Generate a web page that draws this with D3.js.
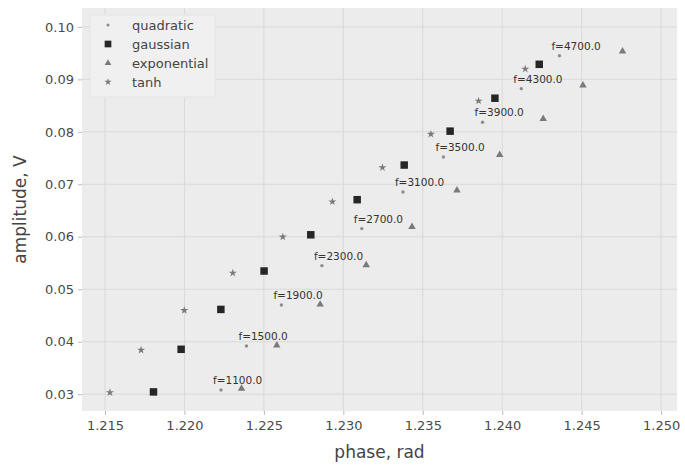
<!DOCTYPE html>
<html>
<head>
<meta charset="utf-8">
<script src="https://cdn.jsdelivr.net/npm/d3@7"></script>
<style>
  body { margin: 0; background: #fff; }
  text { font-family: "DejaVu Sans", sans-serif; }
</style>
</head>
<body>
<div id="chart"></div>
<script>
let width = 685,
    height = 465;

// frequency labels for the quadratic points
let freqs = [1100, 1500, 1900, 2300, 2700, 3100, 3500, 3900, 4300, 4700];

let quadPhase = [1.2223, 1.2239, 1.2261, 1.22865, 1.23116, 1.23375, 1.2363, 1.23876, 1.2412, 1.2436];
let quadAmp = [0.0308, 0.0392, 0.0470, 0.0545, 0.06156, 0.06853, 0.0752, 0.08184, 0.08823, 0.0945];

let gaussPhase = [1.21805, 1.21979, 1.22229, 1.22501, 1.22795, 1.23087, 1.23383, 1.23672, 1.23954, 1.24233];
let gaussAmp = [0.03044, 0.03856, 0.04616, 0.05348, 0.06038, 0.06707, 0.07367, 0.08013, 0.08641, 0.09287];

let expPhase = [1.22359, 1.22581, 1.22854, 1.23144, 1.23432, 1.23715, 1.23984, 1.24258, 1.24508, 1.24757];
let expAmp = [0.03108, 0.03932, 0.04711, 0.05462, 0.06188, 0.06884, 0.07563, 0.08247, 0.08888, 0.09534];

let tanhPhase = [1.21531, 1.21727, 1.21999, 1.22304, 1.22619, 1.22931, 1.23246, 1.23551, 1.23851, 1.24145];
let tanhAmp = [0.03032, 0.03842, 0.04597, 0.05310, 0.05998, 0.06669, 0.07321, 0.07956, 0.08589, 0.09198];

let xTicks = [1.215, 1.220, 1.225, 1.230, 1.235, 1.240, 1.245, 1.250];
let yTicks = [0.03, 0.04, 0.05, 0.06, 0.07, 0.08, 0.09, 0.10];

let series = [
  {name: "quadratic", x: quadPhase, y: quadAmp, shape: d3.symbolCircle, size: 9, color: "#8c8c8c"},
  {name: "gaussian", x: gaussPhase, y: gaussAmp, shape: d3.symbolSquare, size: 56, color: "#262626"},
  {name: "exponential", x: expPhase, y: expAmp, shape: d3.symbolTriangle, size: 24, color: "#7a7a7a"},
  {name: "tanh", x: tanhPhase, y: tanhAmp, shape: d3.symbolStar, size: 20, color: "#7a7a7a"}
];

let margin = {top: 8, right: 8, bottom: 54, left: 82};

let x = d3.scaleLinear()
    .domain([1.21355, 1.2510])
    .range([margin.left, width - margin.right]);
let y = d3.scaleLinear()
    .domain([0.0268, 0.1036])
    .range([height - margin.bottom, margin.top]);

let svg = d3.select("#chart").append("svg")
    .attr("width", width)
    .attr("height", height);

svg.append("rect")
    .attr("x", margin.left)
    .attr("y", margin.top)
    .attr("width", width - margin.left - margin.right)
    .attr("height", height - margin.top - margin.bottom)
    .style("fill", "#ececec");

// grid
svg.append("g").selectAll("line")
    .data(xTicks)
    .enter().append("line")
    .attr("x1", d => x(d)).attr("x2", d => x(d))
    .attr("y1", margin.top).attr("y2", height - margin.bottom)
    .style("stroke", "#d9d9d9");
svg.append("g").selectAll("line")
    .data(yTicks)
    .enter().append("line")
    .attr("y1", d => y(d)).attr("y2", d => y(d))
    .attr("x1", margin.left).attr("x2", width - margin.right)
    .style("stroke", "#d9d9d9");

let xAxis = svg.append("g")
    .attr("transform", "translate(0," + (height - margin.bottom) + ")")
    .call(d3.axisBottom(x).tickValues(xTicks).tickFormat(d3.format(".3f")).tickSize(4).tickPadding(6));
let yAxis = svg.append("g")
    .attr("transform", "translate(" + margin.left + ",0)")
    .call(d3.axisLeft(y).tickValues(yTicks).tickFormat(d3.format(".2f")).tickSize(4).tickPadding(4));

[xAxis, yAxis].forEach(a => {
  a.select(".domain").remove();
  a.selectAll(".tick line").style("stroke", "#bbbbbb");
  a.selectAll(".tick text")
    .style("font-size", "13px")
    .style("fill", "#4a4a4a");
});

svg.append("text")
    .attr("x", (margin.left + width - margin.right) / 2)
    .attr("y", 458)
    .attr("text-anchor", "middle")
    .style("font-size", "17px")
    .style("fill", "#444")
    .text("phase, rad");

svg.append("text")
    .attr("transform", "translate(26," + ((margin.top + height - margin.bottom) / 2) + ") rotate(-90)")
    .attr("text-anchor", "middle")
    .style("font-size", "17px")
    .style("fill", "#444")
    .text("amplitude, V");

// markers
series.forEach(s => {
  svg.append("g").selectAll("path")
      .data(s.x.map((v, i) => [v, s.y[i]]))
      .enter().append("path")
      .attr("transform", d => "translate(" + x(d[0]) + "," + y(d[1]) + ")")
      .attr("d", d3.symbol().type(s.shape).size(s.size))
      .style("fill", s.color);
});

// frequency annotations
svg.append("g").selectAll("text")
    .data(freqs)
    .enter().append("text")
    .attr("x", (d, i) => x(quadPhase[i]) - 8)
    .attr("y", (d, i) => y(quadAmp[i]) - 6)
    .style("font-size", "10.5px")
    .style("fill", "#333")
    .text(d => "f=" + d.toFixed(1));

// legend
let legend = svg.append("g");
legend.append("rect")
    .attr("x", 90).attr("y", 15)
    .attr("width", 125).attr("height", 82)
    .attr("rx", 3)
    .style("fill", "#f0f0f0")
    .style("stroke", "#e4e4e4");

series.forEach((s, i) => {
  let ly = 25 + i * 19;
  legend.append("path")
      .attr("transform", "translate(108," + ly + ")")
      .attr("d", d3.symbol().type(s.shape).size(s.size * 0.8))
      .style("fill", s.color);
  legend.append("text")
      .attr("x", 132)
      .attr("y", ly)
      .attr("dy", "0.35em")
      .style("font-size", "13px")
      .style("fill", "#444")
      .text(s.name);
});
</script>
</body>
</html>
